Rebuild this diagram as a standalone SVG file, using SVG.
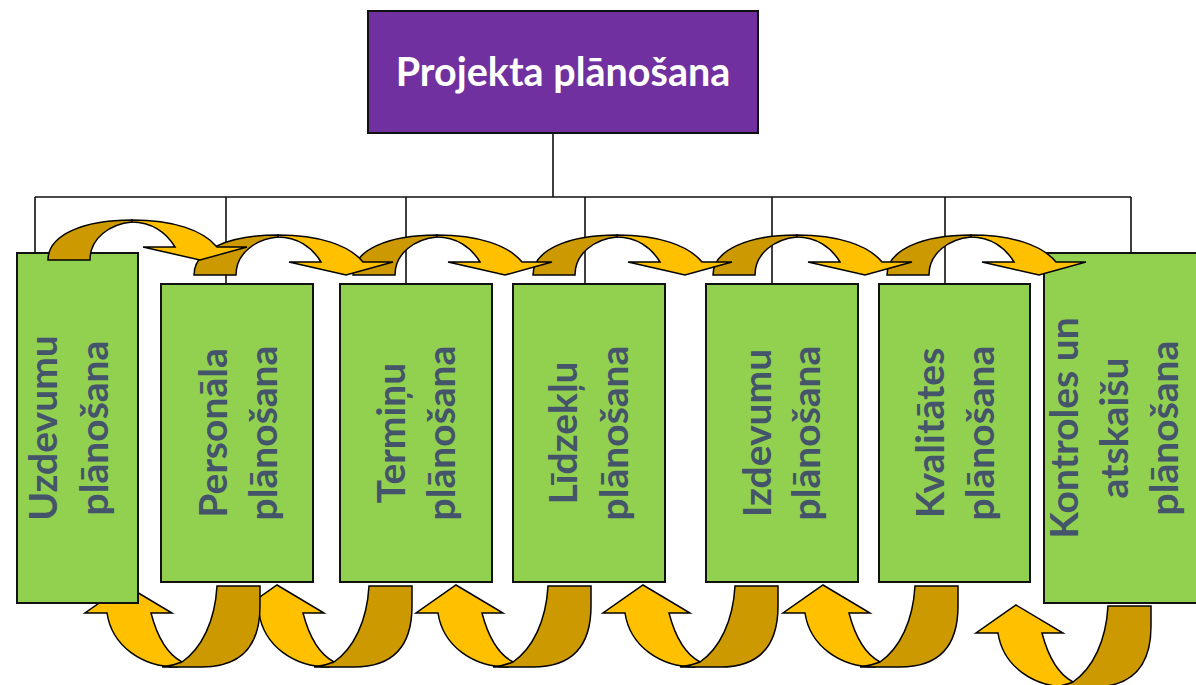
<svg xmlns="http://www.w3.org/2000/svg" width="1196" height="685" viewBox="0 0 1196 685">
<style>
.ln{stroke:#111;stroke-width:1.6;fill:none}
.box{fill:#92D050;stroke:#111;stroke-width:2}
.title{fill:#7030A0;stroke:#111;stroke-width:2}
.lbl{font-family:Lato,"Open Sans","Liberation Sans",sans-serif;font-weight:bold;font-size:39px;fill:#44546A;text-anchor:middle}
.ttl{font-family:Lato,"Open Sans","Liberation Sans",sans-serif;font-weight:bold;font-size:39.5px;fill:#fff;text-anchor:middle}
.lt{fill:#FFC000;stroke:#000;stroke-width:1.5;stroke-linejoin:miter}
.dk{fill:#CC9900;stroke:#000;stroke-width:1.5;stroke-linejoin:miter}
</style>
<defs>
<g id="topArrow">
<path class="lt" d="M84,-40 C125,-40 155,-30 169,-13 L199,-13 L152,0 L95,-13 L127,-13 C118,-28 103,-38 84,-38 Z"/>
<path class="dk" d="M0,0 C0,-25 35,-40 84,-40 L84,-38 C62,-36 42,-22 42,0 Z"/>
</g>
<g id="botArrow">
<path class="lt" d="M-110,27 L-132,27 L-92,-1 L-45,27 L-66,27 C-60,50 -50,68 -35,76 L-40,81 C-75,81 -105,60 -110,27 Z"/>
<path class="dk" d="M0,0 L43,0 L43,20 C43,60 25,81 -15,81 C-30,81 -45,81 -55,81 Q-45,80 -35,76 C-15,62 -2,35 0,0 Z"/>
</g>
</defs>
<g id="connectors">
<path class="ln" d="M553,133 V197 M35,197 H1131 M35,197 V253 M226,197 V284 M406,197 V284 M585,197 V284 M772,197 V284 M945,197 V284 M1131,197 V253"/>
</g>
<g id="arrows-bottom">
<use href="#botArrow" transform="translate(1108,606)"/>
<use href="#botArrow" transform="translate(915,586)"/>
<use href="#botArrow" transform="translate(735,586)"/>
<use href="#botArrow" transform="translate(548,586)"/>
<use href="#botArrow" transform="translate(369,586)"/>
<use href="#botArrow" transform="translate(217,586)"/>
</g>
<g id="node-title">
<rect class="title" x="368" y="11" width="390" height="122"/>
<text class="ttl" x="563" y="86">Projekta plānošana</text>
</g>
<g id="node-1">
<rect class="box" x="17" y="253" width="121" height="350"/>
<text class="lbl" transform="translate(57,428) rotate(-90)">Uzdevumu</text>
<text class="lbl" transform="translate(108,428) rotate(-90)">plānošana</text>
</g>
<g id="node-2">
<rect class="box" x="161" y="284" width="152" height="298"/>
<text class="lbl" transform="translate(227,433) rotate(-90)">Personāla</text>
<text class="lbl" transform="translate(277,433) rotate(-90)">plānošana</text>
</g>
<g id="node-3">
<rect class="box" x="340" y="284" width="152" height="298"/>
<text class="lbl" transform="translate(405,433) rotate(-90)">Termiņu</text>
<text class="lbl" transform="translate(455,433) rotate(-90)">plānošana</text>
</g>
<g id="node-4">
<rect class="box" x="513" y="284" width="152" height="298"/>
<text class="lbl" transform="translate(577,433) rotate(-90)">Līdzekļu</text>
<text class="lbl" transform="translate(628,433) rotate(-90)">plānošana</text>
</g>
<g id="node-5">
<rect class="box" x="706" y="284" width="152" height="298"/>
<text class="lbl" transform="translate(771,433) rotate(-90)">Izdevumu</text>
<text class="lbl" transform="translate(820,433) rotate(-90)">plānošana</text>
</g>
<g id="node-6">
<rect class="box" x="879" y="284" width="151" height="298"/>
<text class="lbl" transform="translate(944,433) rotate(-90)">Kvalitātes</text>
<text class="lbl" transform="translate(994,433) rotate(-90)">plānošana</text>
</g>
<g id="node-7">
<rect class="box" x="1044" y="253" width="160" height="350"/>
<text class="lbl" transform="translate(1078,428) rotate(-90)">Kontroles un</text>
<text class="lbl" transform="translate(1128,428) rotate(-90)">atskaišu</text>
<text class="lbl" transform="translate(1178,428) rotate(-90)">plānošana</text>
</g>
<g id="arrows-top">
<use href="#topArrow" transform="translate(887,275)"/>
<use href="#topArrow" transform="translate(713,275)"/>
<use href="#topArrow" transform="translate(533,275)"/>
<use href="#topArrow" transform="translate(353,275)"/>
<use href="#topArrow" transform="translate(194,275)"/>
<use href="#topArrow" transform="translate(48,260)"/>
</g>
</svg>
